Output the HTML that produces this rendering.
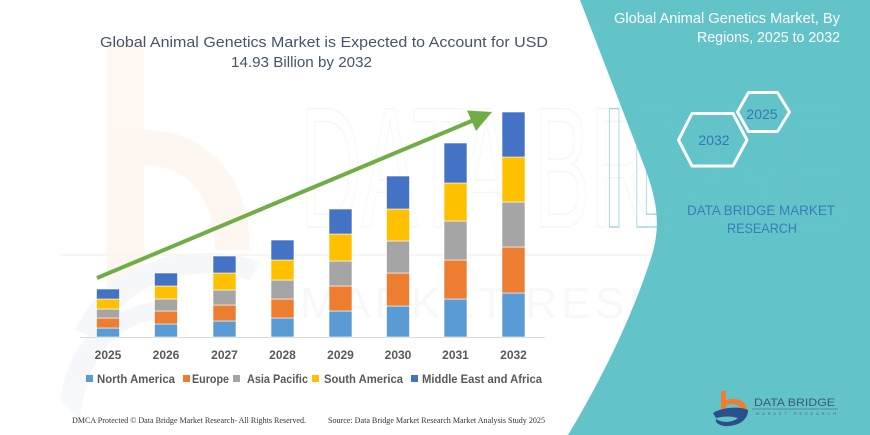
<!DOCTYPE html>
<html><head><meta charset="utf-8"><style>
html,body{margin:0;padding:0;background:#fff;}
svg{display:block;}
</style></head><body>
<svg width="870" height="435" viewBox="0 0 870 435" xmlns="http://www.w3.org/2000/svg">
<rect width="870" height="435" fill="#ffffff"/>
<!-- watermark b (orange) -->
<g opacity="0.55">
<rect x="107" y="40" width="37" height="250" fill="#fdf0e7"/>
<path d="M144,130 C210,130 250,180 250,250 L215,250 C215,195 185,165 144,165 Z" fill="#fdf0e7"/>
<path d="M75,330 C110,255 200,240 260,262 L250,280 C195,262 125,280 100,340 Z" fill="#eef2f8"/>
<path d="M60,400 C70,330 120,300 180,300 L170,318 C120,320 88,350 80,420 Z" fill="#eef2f8"/>
</g>
<!-- watermark text -->
<text x="300" y="227" font-family="Liberation Sans Narrow, Liberation Sans, sans-serif" font-size="172" fill="none" stroke="#f6f6f6" stroke-width="1.5" textLength="560" lengthAdjust="spacingAndGlyphs">DATA BRIDGE</text>
<text x="300" y="318" font-family="Liberation Sans, sans-serif" font-size="44" fill="#f8f8f8" textLength="530" lengthAdjust="spacing" letter-spacing="30">MARKET RESEARCH</text>
<line x1="60" y1="255" x2="660" y2="255" stroke="#fcf4ee" stroke-width="2"/>

<!-- teal panel -->
<path d="M580,0 L870,0 L870,435 L568,435 Q625,340 652,255 C664,215 652,185 636,145 Z" fill="#62c3c8"/>
<text x="600" y="227" font-family="Liberation Sans Narrow, Liberation Sans, sans-serif" font-size="172" fill="none" stroke="#68c6cb" stroke-width="1.5" textLength="250" lengthAdjust="spacingAndGlyphs" opacity="0.6">IDGE</text>

<!-- left title -->
<g font-family="Liberation Sans, sans-serif" fill="#44546a" font-size="15">
<text x="100" y="47" textLength="448" lengthAdjust="spacingAndGlyphs">Global Animal Genetics Market is Expected to Account for USD</text>
<text x="231" y="67" textLength="141" lengthAdjust="spacingAndGlyphs">14.93 Billion by 2032</text>
</g>

<!-- right title -->
<g font-family="Liberation Sans, sans-serif" fill="#ffffff" font-size="15">
<text x="614" y="23" textLength="226" lengthAdjust="spacingAndGlyphs">Global Animal Genetics Market, By</text>
<text x="697" y="42" textLength="143" lengthAdjust="spacingAndGlyphs">Regions, 2025 to 2032</text>
</g>

<!-- hexagons -->
<g fill="none" stroke="#ffffff" stroke-width="3" stroke-linejoin="round">
<polygon points="737.5,112 748.5,92.5 777.5,92.5 789.5,112 777.5,131.5 748.5,131.5"/>
<polygon points="678.5,140 692,113.5 733,113.5 747,140 733,166 692,166"/>
</g>
<g font-family="Liberation Sans, sans-serif" fill="#3577b5" font-size="14" text-anchor="middle">
<text x="762" y="119">2025</text>
<text x="714" y="145">2032</text>
</g>
<g font-family="Liberation Sans, sans-serif" fill="#3a7bbd" font-size="13.5">
<text x="687" y="215" textLength="148" lengthAdjust="spacingAndGlyphs">DATA BRIDGE MARKET</text>
<text x="727" y="233" textLength="70" lengthAdjust="spacingAndGlyphs">RESEARCH</text>
</g>

<!-- axis -->
<line x1="80" y1="337.5" x2="545" y2="337.5" stroke="#d9d9d9" stroke-width="1"/>

<!-- bars -->
<g stroke="#ffffff" stroke-width="0.6">
<rect x="96.5" y="328" width="23" height="9" fill="#5b9bd5"/>
<rect x="96.5" y="318" width="23" height="10" fill="#ed7d31"/>
<rect x="96.5" y="309" width="23" height="9" fill="#a5a5a5"/>
<rect x="96.5" y="299" width="23" height="10" fill="#ffc000"/>
<rect x="96.5" y="289" width="23" height="10" fill="#4472c4"/>
<rect x="154.5" y="324" width="23" height="13" fill="#5b9bd5"/>
<rect x="154.5" y="311" width="23" height="13" fill="#ed7d31"/>
<rect x="154.5" y="299" width="23" height="12" fill="#a5a5a5"/>
<rect x="154.5" y="286" width="23" height="13" fill="#ffc000"/>
<rect x="154.5" y="273" width="23" height="13" fill="#4472c4"/>
<rect x="213" y="321" width="23" height="16" fill="#5b9bd5"/>
<rect x="213" y="305" width="23" height="16" fill="#ed7d31"/>
<rect x="213" y="290" width="23" height="15" fill="#a5a5a5"/>
<rect x="213" y="273" width="23" height="17" fill="#ffc000"/>
<rect x="213" y="256" width="23" height="17" fill="#4472c4"/>
<rect x="271" y="318" width="23" height="19" fill="#5b9bd5"/>
<rect x="271" y="299" width="23" height="19" fill="#ed7d31"/>
<rect x="271" y="280" width="23" height="19" fill="#a5a5a5"/>
<rect x="271" y="260" width="23" height="20" fill="#ffc000"/>
<rect x="271" y="240" width="23" height="20" fill="#4472c4"/>
<rect x="329" y="311" width="23" height="26" fill="#5b9bd5"/>
<rect x="329" y="286" width="23" height="25" fill="#ed7d31"/>
<rect x="329" y="261" width="23" height="25" fill="#a5a5a5"/>
<rect x="329" y="234" width="23" height="27" fill="#ffc000"/>
<rect x="329" y="209" width="23" height="25" fill="#4472c4"/>
<rect x="386.5" y="306" width="23" height="31" fill="#5b9bd5"/>
<rect x="386.5" y="273" width="23" height="33" fill="#ed7d31"/>
<rect x="386.5" y="241" width="23" height="32" fill="#a5a5a5"/>
<rect x="386.5" y="209" width="23" height="32" fill="#ffc000"/>
<rect x="386.5" y="176" width="23" height="33" fill="#4472c4"/>
<rect x="444" y="299" width="23" height="38" fill="#5b9bd5"/>
<rect x="444" y="260" width="23" height="39" fill="#ed7d31"/>
<rect x="444" y="221" width="23" height="39" fill="#a5a5a5"/>
<rect x="444" y="183" width="23" height="38" fill="#ffc000"/>
<rect x="444" y="143" width="23" height="40" fill="#4472c4"/>
<rect x="502" y="293" width="23" height="44" fill="#5b9bd5"/>
<rect x="502" y="247" width="23" height="46" fill="#ed7d31"/>
<rect x="502" y="202" width="23" height="45" fill="#a5a5a5"/>
<rect x="502" y="157" width="23" height="45" fill="#ffc000"/>
<rect x="502" y="112" width="23" height="45" fill="#4472c4"/>
</g>

<!-- arrow -->
<line x1="97" y1="278" x2="474" y2="120" stroke="#70ad47" stroke-width="4"/>
<polygon points="492,112 467,110.5 476,131" fill="#70ad47"/>

<!-- year labels -->
<g font-family="Liberation Sans, sans-serif" font-weight="bold" fill="#595959" font-size="12" text-anchor="middle">
<text x="108" y="359">2025</text>
<text x="166" y="359">2026</text>
<text x="224.5" y="359">2027</text>
<text x="282.5" y="359">2028</text>
<text x="340.5" y="359">2029</text>
<text x="398" y="359">2030</text>
<text x="455.5" y="359">2031</text>
<text x="513.5" y="359">2032</text>
</g>

<!-- legend -->
<rect x="86" y="375" width="7" height="7" fill="#5b9bd5"/>
<rect x="183" y="375" width="7" height="7" fill="#ed7d31"/>
<rect x="233" y="375" width="7" height="7" fill="#a5a5a5"/>
<rect x="312" y="375" width="7" height="7" fill="#ffc000"/>
<rect x="411" y="375" width="7" height="7" fill="#4472c4"/>
<g font-family="Liberation Sans, sans-serif" font-weight="bold" fill="#595959" font-size="11.5">
<text x="97" y="383" textLength="78" lengthAdjust="spacingAndGlyphs">North America</text>
<text x="192" y="383" textLength="37" lengthAdjust="spacingAndGlyphs">Europe</text>
<text x="247" y="383" textLength="61" lengthAdjust="spacingAndGlyphs">Asia Pacific</text>
<text x="324" y="383" textLength="79" lengthAdjust="spacingAndGlyphs">South America</text>
<text x="422" y="383" textLength="120" lengthAdjust="spacingAndGlyphs">Middle East and Africa</text>
</g>

<!-- footer -->
<g font-family="Liberation Serif, serif" fill="#333333" font-size="8">
<text x="72" y="423" textLength="234" lengthAdjust="spacingAndGlyphs">DMCA Protected © Data Bridge Market Research-  All Rights Reserved.</text>
<text x="328" y="423" textLength="217" lengthAdjust="spacingAndGlyphs">Source: Data Bridge Market Research  Market Analysis Study 2025</text>
</g>

<!-- logo bottom right -->
<g>
<rect x="721" y="391" width="5" height="18" fill="#ee7d32"/>
<path d="M726,400 C735,397 746,400 747,409 L741,410 C740,404 733,403 726,405 Z" fill="#ee7d32"/>
<path d="M713,413 C722,407 740,406 748,410 C748,420 738,427 724,426 C718,425 715,422 716,419 C722,423 732,423 738,418 C732,416 724,416 716,418 Z" fill="#2b4f8a"/>
<text x="754" y="406" font-family="Liberation Sans, sans-serif" font-size="11" fill="#3f5878" textLength="81" lengthAdjust="spacingAndGlyphs">DATA BRIDGE</text>
<line x1="752" y1="409" x2="838" y2="409" stroke="#5a7590" stroke-width="0.8"/>
<text x="756" y="415" font-family="Liberation Sans, sans-serif" font-size="4" fill="#4a6580" textLength="80" lengthAdjust="spacing">MARKET RESEARCH</text>
</g>
</svg>
</body></html>
